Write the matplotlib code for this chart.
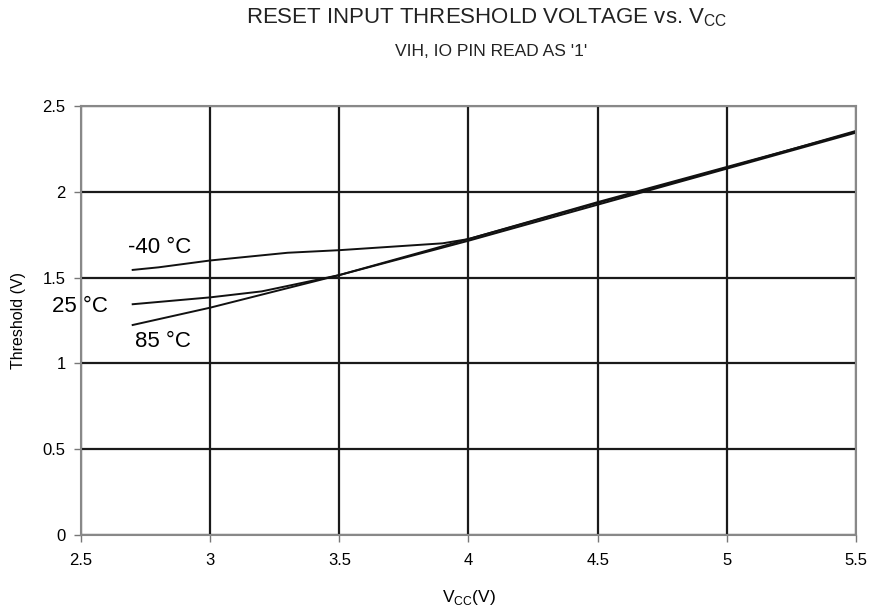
import numpy as np
import matplotlib
matplotlib.use("Agg")
import matplotlib.pyplot as plt

plt.rcParams['font.family'] = ['Liberation Sans', 'DejaVu Sans']

# supply voltage (V) and threshold (V) per temperature
vcc_m40 = [2.7, 2.8, 3.0, 3.3, 3.5, 3.9, 4.0, 4.5, 5.0, 5.5]
thr_m40 = [1.545, 1.56, 1.60, 1.645, 1.66, 1.70, 1.725, 1.94, 2.145, 2.35]

vcc_25 = [2.7, 3.0, 3.2, 3.5, 4.0, 4.5, 5.0, 5.5]
thr_25 = [1.345, 1.385, 1.42, 1.515, 1.725, 1.935, 2.14, 2.355]

vcc_85 = [2.7, 3.0, 3.5, 4.0, 4.5, 5.0, 5.5]
thr_85 = [1.224, 1.325, 1.515, 1.715, 1.925, 2.135, 2.345]

xticks = [2.5, 3, 3.5, 4, 4.5, 5, 5.5]
xtick_labels = ['2.5', '3', '3.5', '4', '4.5', '5', '5.5']
yticks = [0, 0.5, 1, 1.5, 2, 2.5]
ytick_labels = ['0', '0.5', '1', '1.5', '2', '2.5']

fig = plt.figure(figsize=(8.73, 6.15), dpi=100)
ax = fig.add_axes([0.0928, 0.130, 0.8877, 0.6976])

ax.plot(vcc_m40, thr_m40, color='#111111', lw=1.4)
ax.plot(vcc_25, thr_25, color='#111111', lw=1.4)
ax.plot(vcc_85, thr_85, color='#111111', lw=1.4)

ax.set_xlim(2.5, 5.5)
ax.set_ylim(0, 2.5)
ax.set_xticks(xticks)
ax.set_xticklabels(xtick_labels, fontsize=12)
ax.set_yticks(yticks)
ax.set_yticklabels(ytick_labels, fontsize=12)
ax.grid(True, color='#1a1a1a', lw=1.6)
ax.tick_params(direction='out', length=5, color='#777777', width=1)
ax.tick_params(axis='x', pad=8)
ax.tick_params(axis='y', pad=6)
for s in ax.spines.values():
    s.set_color('#888888')
    s.set_linewidth(1.5)

ax.set_ylabel('Threshold (V)', fontsize=11.5, labelpad=12)
ax.set_xlabel(r'V$_{\mathregular{CC}}$(V)', fontsize=12.5, labelpad=14)

ax.text(2.682, 1.678, '-40 °C', fontsize=16, va='center')
ax.text(2.388, 1.329, '25 °C', fontsize=16, va='center')
ax.text(2.709, 1.125, '85 °C', fontsize=16, va='center')

fig.text(0.558, 0.972, r'RESET INPUT THRESHOLD VOLTAGE vs. V$_{\mathregular{CC}}$',
         ha='center', va='center', fontsize=16, color='#222222')
fig.text(0.562, 0.916, "VIH, IO PIN READ AS '1'", ha='center', va='center',
         fontsize=12.5, color='#222222')

fig.savefig('out.png', dpi=100)
